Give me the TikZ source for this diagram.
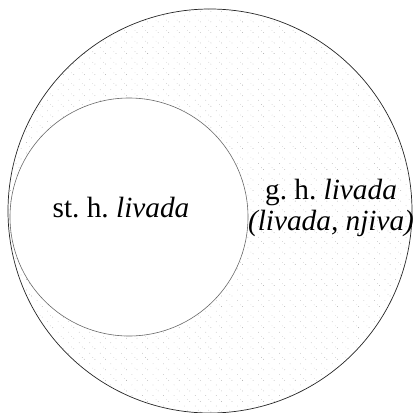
\documentclass[tikz,border=0pt]{standalone}
\usepackage{fontspec}
\setmainfont{Liberation Serif}
\usetikzlibrary{patterns.meta}
\tikzdeclarepattern{name=stipple,type=uncolored,bottom left={(-.5pt,-.5pt)},top right={(9pt,9pt)},tile size={(9pt,9pt)},
  code={\fill (0,0) circle (.35pt); \fill (4.6pt,5.1pt) circle (.3pt); \fill (7.2pt,1.5pt) circle (.25pt);}}
\tikzset{lbl/.style={font=\fontsize{25}{26}\selectfont,align=center,inner sep=0pt}}

\begin{document}
\begin{tikzpicture}[x=0.3mm,y=-0.3mm]
\useasboundingbox (0,0) rectangle (415,412);
\fill[pattern={stipple},pattern color=gray!70] (210,211) circle (202);
\fill[white] (129,217) circle (119);
\draw[line width=0.6pt,black!85] (210,211) circle (202);
\draw[line width=0.5pt,black!60] (129,217) circle (119);
\node[lbl] (inner) at (121,208) {st.\ h.\ \textit{livada}};
\node[lbl] (outer) at (331,208) {g.\ h.\ \textit{livada}\\\textit{(livada, njiva)}};
\end{tikzpicture}
\end{document}
